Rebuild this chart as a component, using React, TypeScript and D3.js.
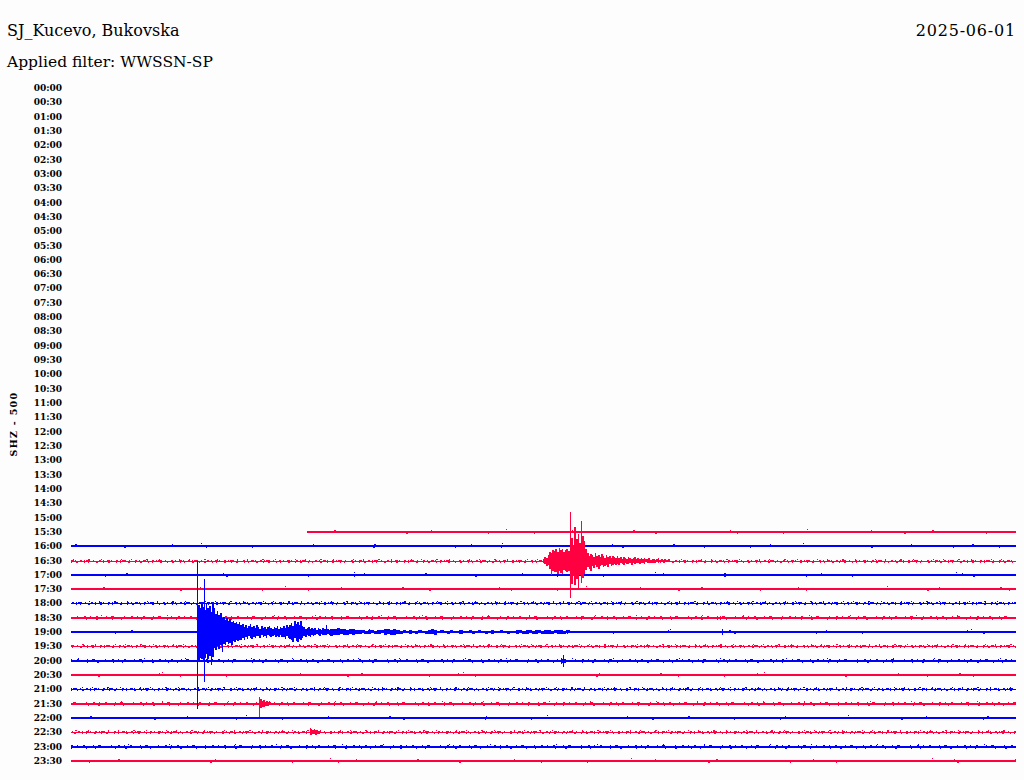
import React from 'react';
import * as d3 from 'd3';

// ---------- text ----------
const STATION = 'SJ_Kucevo, Bukovska';
const FILTER_LABEL = 'Applied filter: WWSSN-SP';
const DATE_LABEL = '2025-06-01';
const CHANNEL_LABEL = 'SHZ - 500';

// ---------- rows (tick labels) ----------
const rowLabels = [
  '00:00', '00:30', '01:00', '01:30', '02:00', '02:30', '03:00', '03:30',
  '04:00', '04:30', '05:00', '05:30', '06:00', '06:30', '07:00', '07:30',
  '08:00', '08:30', '09:00', '09:30', '10:00', '10:30', '11:00', '11:30',
  '12:00', '12:30', '13:00', '13:30', '14:00', '14:30', '15:00', '15:30',
  '16:00', '16:30', '17:00', '17:30', '18:00', '18:30', '19:00', '19:30',
  '20:00', '20:30', '21:00', '21:30', '22:00', '22:30', '23:00', '23:30',
];

// rows that carry recorded data, with their background noise level (0 quiet, 1 medium, 2 noisy)
const tracedRows = [
  '15:30', '16:00', '16:30', '17:00', '17:30', '18:00', '18:30', '19:00', '19:30',
  '20:00', '20:30', '21:00', '21:30', '22:00', '22:30', '23:00', '23:30',
];
const rowNoise = [0, 0, 2, 0, 0, 2, 1, 0, 2, 1, 0, 2, 1, 0, 2, 1, 0];
// recording starts 7.5 minutes into the first traced row (15:37:30)
const recordStartMinute = 7.5;

// ---------- event envelopes (minute within row, step in minutes, amplitude up/down) ----------
const event1Row = '16:30';
const event1Start = 14.98;
const event1Step = 0.05;
const event1Up = [
  2, 4, 3, 6, 9, 8, 11, 10, 12, 9,
  13, 11, 12, 9, 11, 12, 10, 18, 23, 16,
  34, 22, 27, 18, 40, 25, 20, 12, 8, 5,
  7, 6, 4, 8, 5, 6, 4, 7, 5, 3,
  6, 4, 5, 3, 5, 4, 3, 5, 3, 4,
  2, 4, 3, 2, 4, 3, 2, 3, 4, 2,
  3, 2, 3, 2, 3, 2, 2, 3, 1, 2,
  2, 1, 2, 3, 1, 2, 1, 2, 1, 1, 1,
];
const event1Down = [
  2, 3, 5, 4, 8, 14, 10, 11, 11, 13,
  10, 12, 13, 9, 10, 11, 10, 20, 23, 15,
  24, 18, 27, 14, 22, 17, 13, 9, 6, 8,
  10, 5, 7, 4, 6, 8, 5, 4, 6, 5,
  4, 6, 3, 5, 4, 3, 4, 3, 4, 2,
  3, 4, 2, 3, 3, 2, 4, 2, 3, 2,
  2, 3, 2, 2, 3, 1, 2, 2, 2, 1,
  2, 2, 1, 2, 1, 1, 2, 1, 1, 1, 1,
];

const event2Row = '19:00';
const event2Start = 4.03;
const event2Step = 0.05;
const event2Up = [
  27, 24, 30, 25,
  22, 29, 24, 26, 20, 30,
  24, 18, 21, 17, 19, 14,
  15, 12, 14, 11, 13, 10,
  11, 9, 10, 8, 10, 7,
  8, 5, 7, 4, 6, 8, 5, 6, 4, 7,
  5, 3, 6, 4, 5, 3, 5, 6, 4, 3, 5, 4, 6, 3, 5, 4,
  6, 4, 7, 5, 7,
  9, 6, 11, 8, 10, 7, 11, 6,
  5, 3, 4, 5, 3, 4,
  3, 4, 2, 4, 3, 2, 4, 3, 7, 3, 2,
];
const event2Down = [
  30, 26, 27, 28,
  26, 22, 27, 24, 33, 25,
  16, 18, 14, 17, 13, 20,
  12, 13, 10, 12, 11, 13,
  9, 10, 8, 9, 8, 8,
  6, 8, 5, 7, 4, 6, 7, 5, 6, 4,
  4, 6, 3, 5, 4, 6, 3, 4, 5, 4, 3, 5, 4, 5, 3, 5,
  5, 7, 4, 6, 7,
  8, 10, 6, 9, 10, 7, 8, 6,
  4, 5, 3, 4, 5, 3,
  4, 3, 2, 3, 4, 2, 3, 3, 3, 2, 3,
];

const codaRow = '19:00';
const codaStart = 8.23;
const codaStep = 0.1;
const codaUp = [
  3, 3, 4, 3, 3, 2, 3, 3, 2, 2, 2, 1, 2, 2, 1, 2, 2, 3,
  3, 2, 3, 2, 1, 2, 1, 2, 1, 1, 2, 1, 1, 2, 3, 2, 1, 2, 1, 1,
  2, 1, 1, 2, 1, 1, 2, 1, 1, 2, 1, 1, 1, 2, 1, 1, 2, 1, 1, 1,
  1, 2, 2, 1, 2, 2, 1, 2, 2, 1, 2, 2, 1, 2, 2, 2, 1, 2, 1, 1,
];
const codaDown = [
  4, 3, 3, 2, 3, 3, 2, 3, 2, 2, 1, 2, 2, 1, 2, 2, 1, 3,
  2, 3, 3, 2, 2, 1, 1, 2, 1, 2, 1, 1, 2, 2, 2, 3, 1, 1, 1, 2,
  1, 1, 1, 2, 1, 1, 1, 2, 1, 1, 1, 2, 1, 2, 1, 1, 1, 1, 2, 1,
  1, 2, 1, 2, 2, 1, 2, 2, 1, 2, 2, 2, 2, 1, 2, 2, 2, 1, 1, 1,
];

const event3Row = '21:30';
const event3Start = 6.0;
const event3Step = 0.05;
const event3Up = [5, 3, 4, 2, 3, 2, 2];
const event3Down = [4, 3, 3, 2, 2, 2, 1];

const event4Row = '22:30';
const event4Start = 7.6;
const event4Step = 0.05;
const event4Up = [3, 2, 3, 2, 2];
const event4Down = [3, 2, 2, 3, 2];

const event5Row = '20:00';
const event5Start = 15.55;
const event5Step = 0.05;
const event5Up = [3, 2, 2];
const event5Down = [3, 2, 2];

// ---------- single spikes (row, minute, up, down) ----------
const spikeRows = ['19:00', '19:00', '16:30', '21:30', '20:00', '19:00', '22:30', '18:30'];
const spikeMinutes = [4.01, 4.21, 15.83, 5.97, 15.62, 20.67, 7.59, 20.6];
const spikeUp = [71, 53, 49, 7, 6, 3, 4, 2];
const spikeDown = [77, 50, 37, 13, 6, 3, 3, 2];

// ---------- styling ----------
const W = 1024;
const H = 780;
const BLUE = '#0000ff';
const RED = '#ff0040';
const BG = '#fdfdfd';
const SERIF = "'DejaVu Serif', serif";

const blipPatterns: Record<number, { top: string; bottom: string; outer: string; base: number }> = {
  2: { top: '2 2 1 3 3 1 1 4 2 2 1 1 4 3 1 5', bottom: '1 4 2 6 1 3 1 7 2 5', outer: '1 9 1 14 2 11 1 19', base: 1 },
  1: { top: '1 5 2 8 1 4 3 10 1 6 2 4', bottom: '1 9 2 14 1 8 1 19', outer: '1 40 1 65', base: 2 },
  0: { top: '1 60 2 95 1 140', bottom: '1 45 1 120 2 80', outer: '1 300', base: 2 },
};

export default function App() {
  const xScale = d3.scaleLinear().domain([0, 30]).range([71, 1016]);
  const yScale = d3.scalePoint<string>().domain(rowLabels).range([88, 761]);
  const amp = d3.scaleLinear().domain([0, 10]).range([0, 10]);

  const rowY = (label: string) => Math.round(yScale(label) as number);
  const rowColor = (label: string) => (rowLabels.indexOf(label) % 2 === 0 ? BLUE : RED);

  const bursts = [
    { row: event1Row, start: event1Start, step: event1Step, up: event1Up, down: event1Down },
    { row: event2Row, start: event2Start, step: event2Step, up: event2Up, down: event2Down },
    { row: codaRow, start: codaStart, step: codaStep, up: codaUp, down: codaDown },
    { row: event3Row, start: event3Start, step: event3Step, up: event3Up, down: event3Down },
    { row: event4Row, start: event4Start, step: event4Step, up: event4Up, down: event4Down },
    { row: event5Row, start: event5Start, step: event5Step, up: event5Up, down: event5Down },
  ];

  return (
    <svg
      width={W}
      height={H}
      style={{ position: 'absolute', left: 0, top: 0, background: BG }}
    >
      <rect x={0} y={0} width={W} height={H} fill={BG} />
      <text x={7} y={36} fontFamily={SERIF} fontSize={16} fill="#000">{STATION}</text>
      <text x={7} y={67} fontFamily={SERIF} fontSize={15.5} fill="#000">{FILTER_LABEL}</text>
      <text x={1016} y={36} fontFamily={SERIF} fontSize={16} fill="#000" textAnchor="end" letterSpacing={0.8}>{DATE_LABEL}</text>

      <text
        transform={`translate(13,424) rotate(-90)`}
        fontFamily={SERIF}
        fontSize={9.5}
        fontWeight="bold"
        textAnchor="middle"
        dominantBaseline="central"
        letterSpacing={1.3}
        fill="#000"
      >
        {CHANNEL_LABEL}
      </text>

      {rowLabels.map((lab) => (
        <text
          key={lab}
          x={62}
          y={yScale(lab)}
          fontFamily={SERIF}
          fontSize={9}
          fontWeight="bold"
          textAnchor="end"
          dominantBaseline="central"
          fill="#000"
        >
          {lab}
        </text>
      ))}

      <g shapeRendering="crispEdges">
        {tracedRows.map((lab, i) => {
          const y = rowY(lab);
          const c = rowColor(lab);
          const x0 = xScale(i === 0 ? recordStartMinute : 0);
          const x1 = xScale(30);
          const p = blipPatterns[rowNoise[i]];
          const off = (rowLabels.indexOf(lab) * 23) % 97;
          const thin = p.base === 1;
          const baseY = thin ? y + 0.5 : y;
          const topY = thin ? y - 0.5 : y - 1.5;
          const botY = thin ? y + 1.5 : y + 1.5;
          const outerY = thin ? y - 1.5 : y - 2.5;
          return (
            <g key={lab}>
              <line x1={x0} x2={x1} y1={baseY} y2={baseY} stroke={c} strokeWidth={p.base} />
              <line x1={x0} x2={x1} y1={topY} y2={topY} stroke={c} strokeWidth={1} strokeDasharray={p.top} strokeDashoffset={off} />
              <line x1={x0} x2={x1} y1={botY} y2={botY} stroke={c} strokeWidth={1} strokeDasharray={p.bottom} strokeDashoffset={off * 2} />
              <line x1={x0} x2={x1} y1={outerY} y2={outerY} stroke={c} strokeWidth={1} strokeDasharray={p.outer} strokeDashoffset={off * 3} />
            </g>
          );
        })}

        {bursts.map((b) =>
          b.up.map((u, k) => {
            const t = b.start + k * b.step;
            const xa = Math.round(xScale(t));
            const xb = Math.round(xScale(t + b.step));
            const y = rowY(b.row);
            const top = y - Math.round(amp(u));
            const bot = y + Math.round(amp(b.down[k]));
            return (
              <rect
                key={`${b.row}-${b.start}-${k}`}
                x={xa}
                y={top}
                width={Math.max(1, xb - xa)}
                height={Math.max(2, bot - top)}
                fill={rowColor(b.row)}
              />
            );
          })
        )}

        {spikeRows.map((r, k) => {
          const x = Math.round(xScale(spikeMinutes[k]));
          const y = rowY(r);
          return (
            <rect
              key={`sp-${k}`}
              x={x}
              y={y - Math.round(amp(spikeUp[k]))}
              width={1}
              height={Math.round(amp(spikeUp[k])) + Math.round(amp(spikeDown[k]))}
              fill={rowColor(r)}
            />
          );
        })}
      </g>
    </svg>
  );
}
